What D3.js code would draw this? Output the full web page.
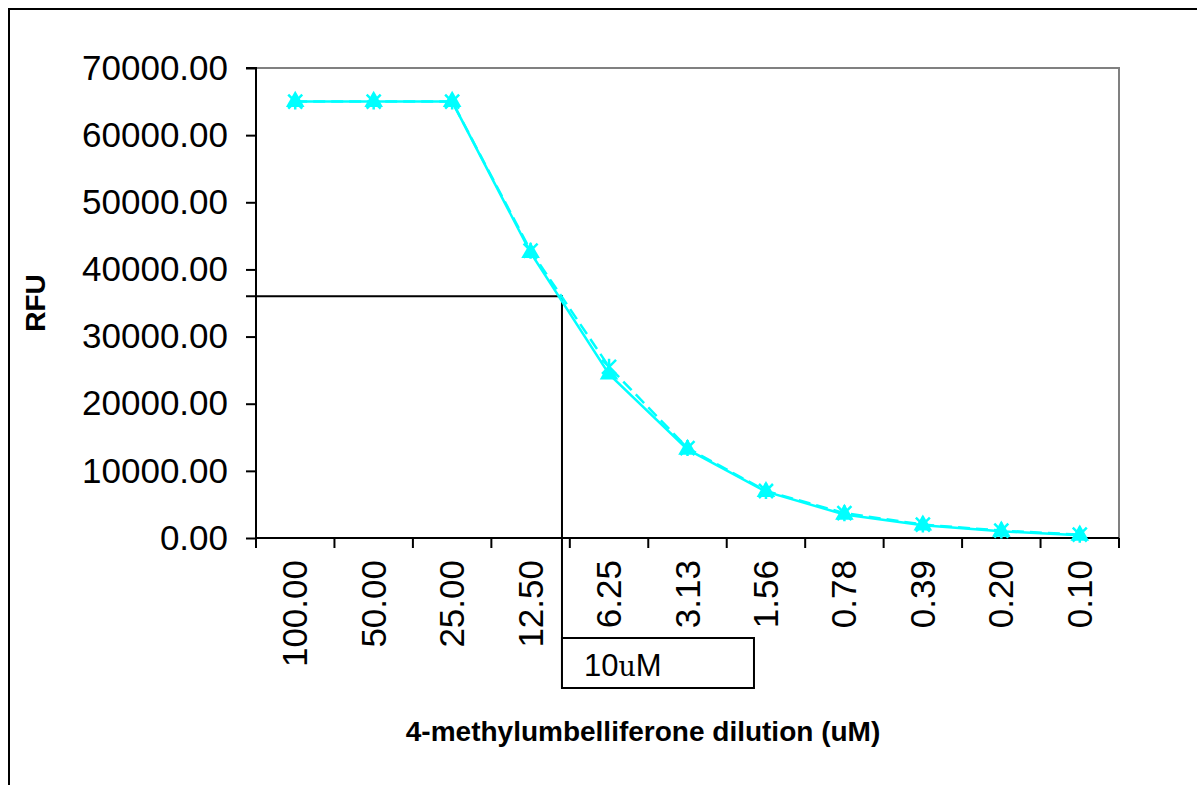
<!DOCTYPE html>
<html>
<head>
<meta charset="utf-8">
<script src="https://cdn.jsdelivr.net/npm/d3@7"></script>
<style>
  body { margin: 0; background: #fff; }
  svg { display: block; }
</style>
</head>
<body>
<svg id="chart"></svg>
<script>
var width = 1197, height = 785;

// data
let categories = ['100.00', '50.00', '25.00', '12.50', '6.25', '3.13', '1.56', '0.78', '0.39', '0.20', '0.10'];
let solidValues = [65000, 65000, 65000, 42500, 24400, 13200, 6900, 3500, 1900, 1000, 400];
let dashedValues = [65000, 65000, 65000, 42800, 25500, 13400, 7000, 3700, 2000, 1100, 500];
let yTicks = [0, 10000, 20000, 30000, 40000, 50000, 60000, 70000];
let refConc = 10, refRFU = 36000, refLabel = '10';

let margin = {left: 256, top: 68, right: 1119, bottom: 538};
let font = 'Liberation Sans, Arial, sans-serif';

let svg = d3.select('#chart').attr('width', width).attr('height', height);

// outer chart frame (runs off the right and bottom edges)
svg.append('rect')
    .attr('x', 9).attr('y', 9)
    .attr('width', width + 20).attr('height', height + 20)
    .attr('fill', 'white').attr('stroke', 'black').attr('stroke-width', 2);

let x = d3.scaleBand().domain(categories).range([margin.left, margin.right]).paddingInner(0).paddingOuter(0);
let y = d3.scaleLinear().domain([0, 70000]).range([margin.bottom, margin.top]);
let cx = function(i) { return x(categories[i]) + x.bandwidth() / 2; };

// plot area border: top and right in gray
svg.append('path')
    .attr('d', 'M' + margin.left + ',' + margin.top + 'H' + margin.right + 'V' + margin.bottom)
    .attr('fill', 'none').attr('stroke', '#808080').attr('stroke-width', 2);

// y axis
let yAxis = svg.append('g').attr('transform', 'translate(' + margin.left + ',0)')
    .call(d3.axisLeft(y).tickValues(yTicks).tickSize(10).tickPadding(18).tickFormat(d3.format('.2f')));
yAxis.select('.domain').attr('stroke', 'black').attr('stroke-width', 2).attr('d', 'M-10,' + margin.top + 'H0V' + (margin.bottom + 10));
yAxis.selectAll('.tick line').attr('stroke', 'black').attr('stroke-width', 2);
yAxis.selectAll('.tick text').attr('font-family', font).attr('font-size', 35).attr('fill', 'black');

// x axis: line + ticks at category boundaries
let xAxis = svg.append('g');
xAxis.append('line')
    .attr('x1', margin.left).attr('x2', margin.right)
    .attr('y1', margin.bottom).attr('y2', margin.bottom)
    .attr('stroke', 'black').attr('stroke-width', 2);
let bounds = categories.map(function(c) { return x(c); }).concat([margin.right]);
xAxis.selectAll('.xtick').data(bounds).enter().append('line')
    .attr('class', 'xtick')
    .attr('x1', function(d) { return d; }).attr('x2', function(d) { return d; })
    .attr('y1', margin.bottom).attr('y2', margin.bottom + 10)
    .attr('stroke', 'black').attr('stroke-width', 2);
xAxis.selectAll('.xlabel').data(categories).enter().append('text')
    .attr('class', 'xlabel')
    .attr('transform', function(d, i) { return 'translate(' + (cx(i) + 12) + ',' + (margin.bottom + 22) + ') rotate(-90)'; })
    .attr('text-anchor', 'end')
    .attr('font-family', font).attr('font-size', 35).attr('fill', 'black')
    .text(function(d) { return d; });

// reference lines at 10 uM
let refX = d3.scaleLinear().domain([12.5, 6.25]).range([cx(3), cx(4)])(refConc);
svg.append('path')
    .attr('d', 'M' + (margin.left - 10) + ',' + y(refRFU) + 'H' + refX + 'V688')
    .attr('fill', 'none').attr('stroke', 'black').attr('stroke-width', 2);
svg.append('rect')
    .attr('x', refX).attr('y', 638).attr('width', 192).attr('height', 50)
    .attr('fill', 'white').attr('stroke', 'black').attr('stroke-width', 2);
let refText = svg.append('text')
    .attr('x', refX + 22).attr('y', 676)
    .attr('font-family', font).attr('font-size', 31).attr('fill', 'black');
refText.append('tspan').text(refLabel);
refText.append('tspan').attr('font-size', 27).attr('font-family', 'DejaVu Serif, serif').text('u');
refText.append('tspan').text('M');

// series lines
let line = d3.line().x(function(d, i) { return cx(i); }).y(function(d) { return y(d); });
svg.append('path').datum(dashedValues)
    .attr('d', line).attr('fill', 'none')
    .attr('stroke', '#00ffff').attr('stroke-width', 2.5).attr('stroke-dasharray', '12,6');
svg.append('path').datum(solidValues)
    .attr('d', line).attr('fill', 'none')
    .attr('stroke', '#00ffff').attr('stroke-width', 2.5);

// triangle markers on the solid series
let tri = d3.symbol().type(d3.symbolTriangle).size(150);
svg.selectAll('.tri').data(solidValues).enter().append('path')
    .attr('class', 'tri')
    .attr('d', tri)
    .attr('transform', function(d, i) { return 'translate(' + cx(i) + ',' + y(d) + ')'; })
    .attr('fill', '#00ffff');

// asterisk markers on the dashed series
let star = svg.selectAll('.star').data(dashedValues).enter().append('g')
    .attr('class', 'star')
    .attr('transform', function(d, i) { return 'translate(' + cx(i) + ',' + y(d) + ')'; });
star.append('path')
    .attr('d', 'M-7,-7L7,7M7,-7L-7,7M0,-8V8')
    .attr('stroke', '#00ffff').attr('stroke-width', 2.5);

// axis titles
svg.append('text')
    .attr('transform', 'translate(45,' + ((margin.top + margin.bottom) / 2) + ') rotate(-90)')
    .attr('text-anchor', 'middle')
    .attr('font-family', font).attr('font-size', 28).attr('font-weight', 700)
    .text('RFU');
svg.append('text')
    .attr('x', 643).attr('y', 741)
    .attr('text-anchor', 'middle')
    .attr('font-family', font).attr('font-size', 28).attr('font-weight', 700)
    .text('4-methylumbelliferone dilution (uM)');
</script>
</body>
</html>
